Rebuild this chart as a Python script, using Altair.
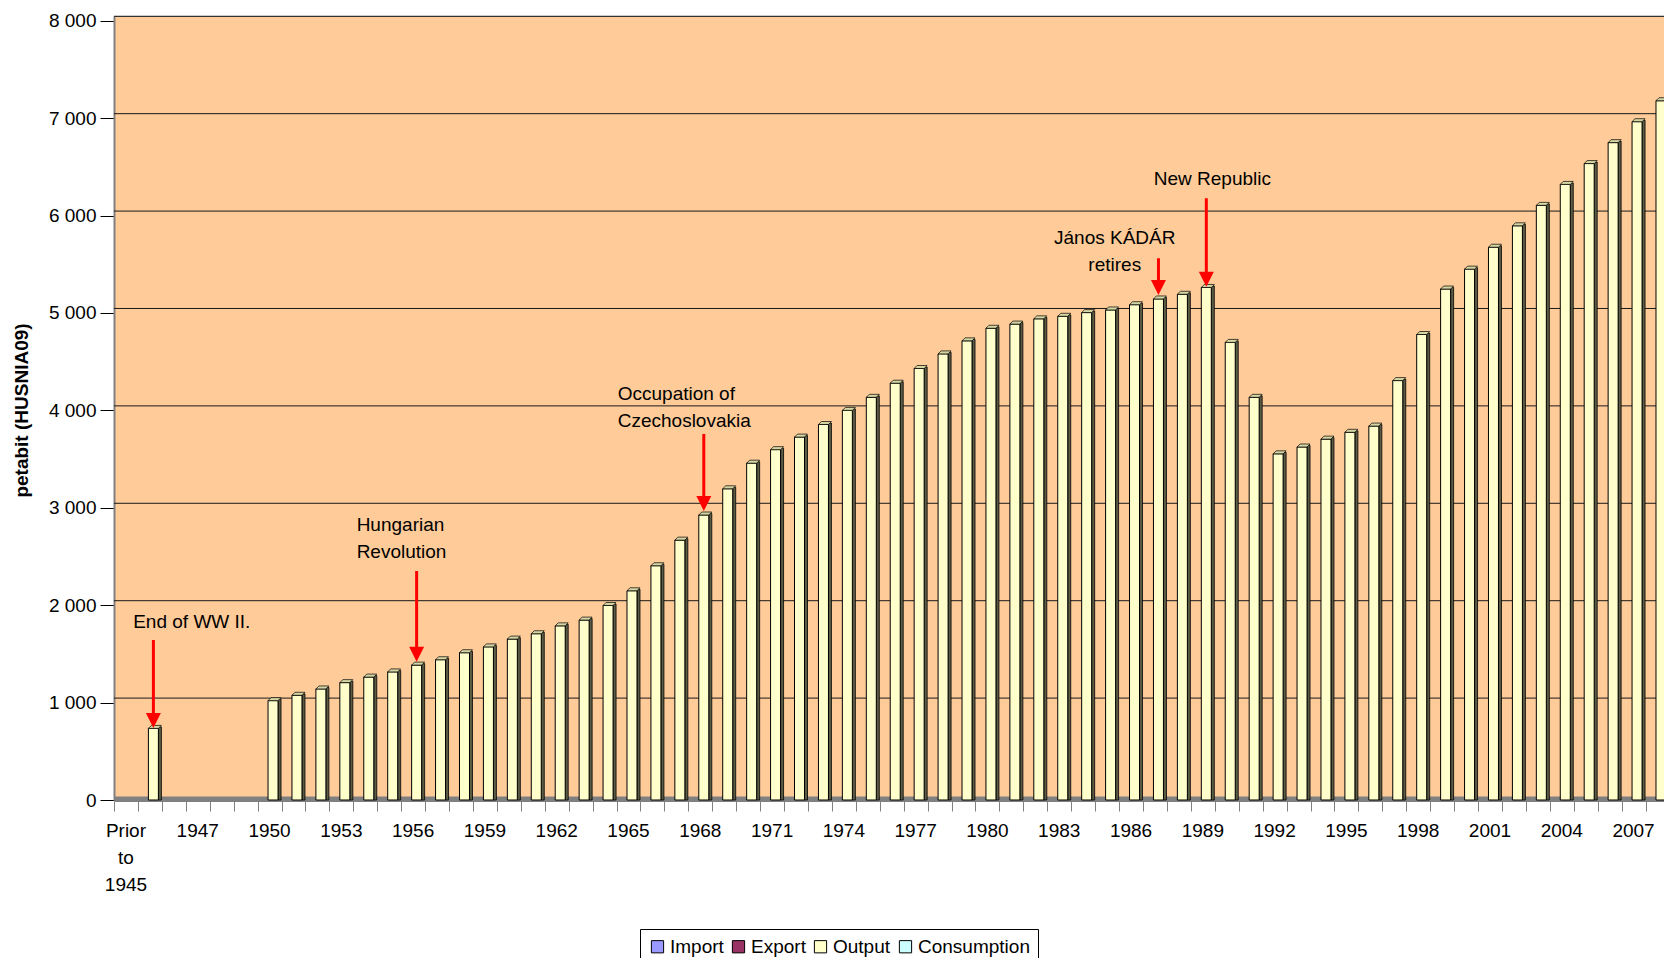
import altair as alt
import pandas as pd

# ---------------- data ----------------
categories = ["Prior to 1945"] + [str(y) for y in range(1945, 2009)]

output_values = [
    None,                                   # Prior to 1945
    735, None, None, None, None,            # 1945-1949
    1020, 1075, 1140, 1205, 1262, 1315, 1385, 1440, 1512, 1572,   # 1950-1959
    1652, 1707, 1788, 1847, 1997, 2148, 2405, 2668, 2926, 3195,   # 1960-1969
    3458, 3597, 3726, 3855, 4000, 4134, 4279, 4430, 4580, 4714,   # 1970-1979
    4843, 4886, 4940, 4966, 5004, 5031, 5085, 5144, 5192, 5262,   # 1980-1989
    4698, 4134, 3554, 3624, 3705, 3775, 3839, 4306, 4779, 5246,   # 1990-1999
    5450, 5675, 5895, 6105, 6320, 6534, 6749, 6964, 7179,         # 2000-2008
]

series_names = ["Import", "Export", "Output", "Consumption"]
series_colors = ["#9999FF", "#993366", "#FFFFCC", "#CCFFFF"]

y_ticks = [0, 1000, 2000, 3000, 4000, 5000, 6000, 7000, 8000]
label_step = 3

ann_labels = ["End of WW II.", "Hungarian\nRevolution", "Occupation of\nCzechoslovakia",
              "János KÁDÁR\nretires", "New Republic"]
ann_label_x = [2.75, 9.64, 20.55, 41.32, 45.40]
ann_label_y = [1831, 2823, 4167, 5767, 6373]   # first text line
ann_align = ["center", "left", "left", "center", "center"]
arrow_cat = [1, 12, 24, 43, 45]
arrow_from = [1643, 2351, 3758, 5562, 6178]
arrow_to = [739, 1420, 2967, 5185, 5270]

# ---------------- tables ----------------
bars = pd.DataFrame({
    "idx": [i for i, v in enumerate(output_values) if v is not None],
    "value": [v for v in output_values if v is not None],
})
bars["series"] = "Output"

grid_df = pd.DataFrame({"value": [t for t in y_ticks if t > 0]})
floor_df = pd.DataFrame({"value": [0]})
xlab_df = pd.DataFrame({
    "idx": list(range(0, len(categories), label_step)),
    "label": categories[::label_step],
    "value": 0,
})
ann_df = pd.DataFrame({"idx": ann_label_x, "value": ann_label_y,
                       "label": ann_labels, "align": ann_align})
arr_df = pd.DataFrame({"idx": arrow_cat, "value": arrow_from, "to": arrow_to})

# ---------------- scales / axes ----------------
FONT = "Liberation Sans"
x_scale = alt.Scale(domain=[-0.5, 64.272], nice=False, zero=False)
y_scale = alt.Scale(domain=[0, 8049], nice=False, zero=True)

boundaries = [i - 0.5 for i in range(len(categories))]
x_axis = alt.Axis(values=boundaries, labels=False, title=None, grid=False,
                  domainColor="#808080", domainWidth=1, tickColor="#808080",
                  tickSize=10, tickWidth=1, offset=1)
y_axis = alt.Axis(values=y_ticks, grid=False, title="petabit (HUSNIA09)",
                  labelExpr="replace(format(datum.value, ','), ',', ' ')",
                  labelFont=FONT, labelFontSize=19, labelColor="black", labelPadding=4,
                  tickColor="black", tickSize=14, tickWidth=1,
                  domainColor="#808080", domainWidth=2,
                  titleFont=FONT, titleFontSize=19, titleFontWeight="bold",
                  titleColor="black", titleAngle=270, titleX=-93, titleY=394,
                  titleAlign="center", titleBaseline="middle")

X = alt.X("idx:Q", scale=x_scale, axis=x_axis)
Y = alt.Y("value:Q", scale=y_scale, axis=y_axis)

# ---------------- layers ----------------
floor = alt.Chart(floor_df).mark_rule(color="#808080", strokeWidth=4, yOffset=-1.5).encode(y=Y)

grid = alt.Chart(grid_df).mark_rule(color="#1a1a1a", strokeWidth=1, yOffset=-4.5).encode(y=Y)

side = alt.Chart(bars).mark_rect(
    fill="#5c5c45", stroke="black", strokeWidth=0.8,
    xOffset=8.5, x2Offset=11.5, yOffset=-1.5
).encode(x=X, x2="idx:Q", y=Y, y2=alt.datum(0))

front = alt.Chart(bars).mark_rect(
    stroke="black", strokeWidth=1, xOffset=-1.5, x2Offset=8.5
).encode(
    x=X, x2="idx:Q", y=Y, y2=alt.datum(0),
    fill=alt.Fill("series:N",
                  scale=alt.Scale(domain=series_names, range=series_colors),
                  legend=alt.Legend(
                      title=None, orient="none", legendX=526, legendY=913,
                      direction="horizontal", columns=4,
                      symbolType="square", symbolSize=150,
                      symbolStrokeColor="black", symbolStrokeWidth=1,
                      labelFont=FONT, labelFontSize=19, labelColor="black",
                      labelOffset=3, columnPadding=5,
                      strokeColor="black", padding=8)),
)

top_face = alt.Chart(bars).mark_point(
    shape="M-1,0.23L0.54,0.23L1,-0.23L-0.54,-0.23Z", filled=True,
    fill="#D6D6A3", stroke="black", strokeWidth=0.7, size=169, opacity=1,
    xOffset=5, yOffset=-1.5
).encode(x=X, y=Y)

xlabels = alt.Chart(xlab_df).mark_text(
    baseline="top", align="center", yOffset=22, lineBreak=" ", lineHeight=27,
    font=FONT, fontSize=19, color="black"
).encode(x=X, y=Y, text="label:N")

arrow_line = alt.Chart(arr_df).mark_rule(
    color="#FF0000", strokeWidth=3, xOffset=3.5, y2Offset=-10
).encode(x=X, y=Y, y2="to:Q")

arrow_head = alt.Chart(arr_df).mark_point(
    shape="M-1,-1L1,-1L0,1Z", filled=True, fill="#FF0000", opacity=1,
    size=225, xOffset=3.5, yOffset=-7.5
).encode(x=X, y=alt.Y("to:Q", scale=y_scale, axis=y_axis))

ann_left = alt.Chart(ann_df).transform_filter("datum.align == 'left'").mark_text(
    align="left", baseline="middle", lineBreak="\n", lineHeight=26.7,
    font=FONT, fontSize=19, color="black"
).encode(x=X, y=Y, text="label:N")

ann_center = alt.Chart(ann_df).transform_filter("datum.align == 'center'").mark_text(
    align="center", baseline="middle", lineBreak="\n", lineHeight=26.7,
    font=FONT, fontSize=19, color="black"
).encode(x=X, y=Y, text="label:N")

chart = alt.layer(
    floor, grid, side, front, top_face, xlabels,
    arrow_line, arrow_head, ann_left, ann_center
).properties(
    width=1550, height=784,
    padding={"left": 106, "top": 8, "right": 0, "bottom": 158},
    autosize=alt.AutoSizeParams(type="none"),
).configure(
    background="white", font=FONT
).configure_view(
    fill="#FFCC99", stroke="#808080", strokeWidth=1
)

chart.save("out.html", embed_options={"renderer": "svg", "actions": False})
